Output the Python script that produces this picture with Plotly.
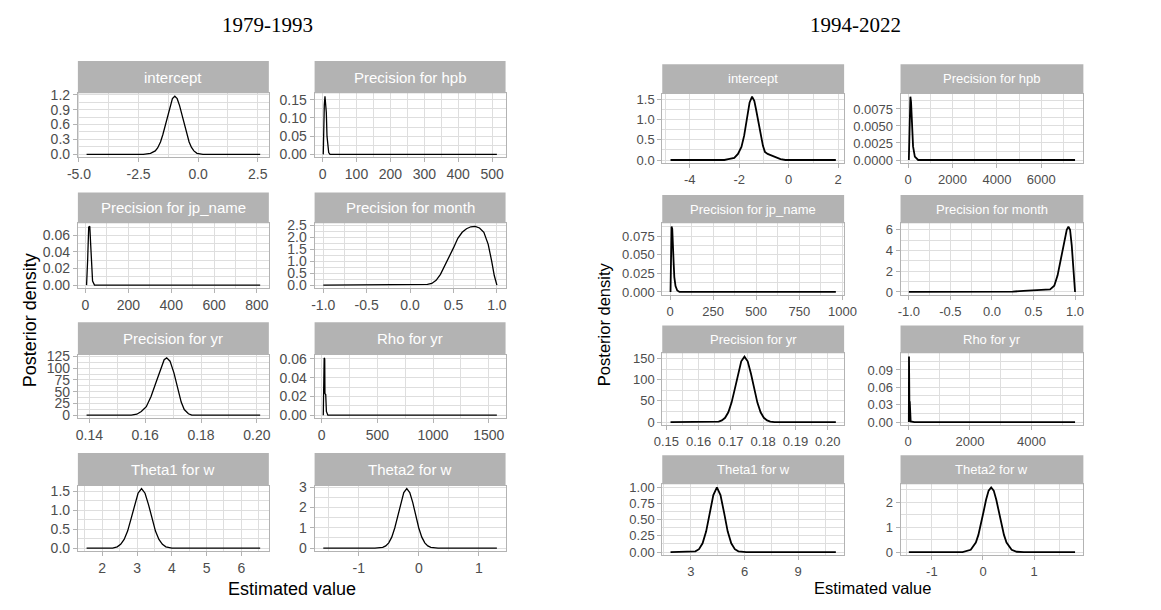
import plotly.graph_objects as go

W, H = 1161, 610

period_titles = ["1979-1993", "1994-2022"]
facet_labels = ["intercept", "Precision for hpb", "Precision for jp_name", "Precision for month",
                "Precision for yr", "Rho for yr", "Theta1 for w", "Theta2 for w"]
x_title = "Estimated value"
y_title = "Posterior density"

# ---------------- 1979-1993 ----------------
a_intercept_x = [-4.68, -2.3, -2.0, -1.8, -1.7, -1.58, -1.48, -1.38, -1.28, -1.18, -1.08, -0.98, -0.88,
                 -0.78, -0.68, -0.58, -0.48, -0.38, -0.28, -0.18, -0.05, 0.2, 2.6]
a_intercept_y = [0, 0, 0.02, 0.07, 0.13, 0.25, 0.40, 0.59, 0.80, 0.98, 1.12, 1.17, 1.12,
                 0.98, 0.79, 0.59, 0.40, 0.25, 0.14, 0.07, 0.02, 0, 0]
a_hpb_x = [2, 3, 5, 7, 9, 11, 13, 15, 18, 22, 514]
a_hpb_y = [0, 0.13, 0.135, 0.16, 0.14, 0.115, 0.05, 0.033, 0.005, 0, 0]
a_jp_x = [5, 7, 10, 15, 20, 24, 28, 33, 42, 815]
a_jp_y = [0, 0.027, 0.03, 0.07, 0.071, 0.05, 0.025, 0.005, 0, 0]
a_month_x = [-1.0, 0.15, 0.2, 0.25, 0.3, 0.35, 0.4, 0.45, 0.5, 0.55, 0.6, 0.65, 0.7, 0.75, 0.8,
             0.85, 0.9, 0.94, 0.97, 1.0]
a_month_y = [0, 0, 0.03, 0.07, 0.2, 0.45, 0.8, 1.15, 1.55, 1.95, 2.2, 2.35, 2.43, 2.45, 2.38,
             2.2, 1.7, 1.0, 0.4, 0.0]
a_yr_x = [0.139, 0.155, 0.157, 0.1586, 0.1604, 0.1621, 0.1639, 0.1656, 0.1668, 0.1677, 0.1689,
          0.1703, 0.1717, 0.1729, 0.174, 0.1755, 0.1767, 0.2012]
a_yr_y = [0, 0, 2, 8, 18, 40, 70, 100, 118, 122, 115, 90, 55, 28, 12, 3, 0, 0]
a_rho_x = [14, 17, 22, 27, 29, 36, 42, 55, 1573]
a_rho_y = [0, 0.06, 0.061, 0.06, 0.023, 0.022, 0.004, 0, 0]
a_theta1_x = [1.55, 2.3, 2.43, 2.53, 2.63, 2.73, 2.83, 2.93, 3.03, 3.13, 3.23, 3.33, 3.43, 3.53,
              3.63, 3.73, 3.83, 4.0, 6.54]
a_theta1_y = [0, 0, 0.035, 0.10, 0.23, 0.45, 0.78, 1.15, 1.45, 1.57, 1.45, 1.15, 0.78, 0.45,
              0.23, 0.10, 0.035, 0, 0]
a_theta2_x = [-1.59, -0.73, -0.6, -0.55, -0.5, -0.45, -0.4, -0.35, -0.3, -0.25, -0.2, -0.15, -0.1,
              -0.05, 0.0, 0.05, 0.1, 0.15, 0.2, 0.32, 1.3]
a_theta2_y = [0, 0, 0.04, 0.11, 0.26, 0.54, 0.99, 1.59, 2.24, 2.74, 2.93, 2.74, 2.24,
              1.59, 0.99, 0.54, 0.26, 0.11, 0.04, 0, 0]

a_xticks = [["-5.0", "-2.5", "0.0", "2.5"], ["0", "100", "200", "300", "400", "500"],
            ["0", "200", "400", "600", "800"], ["-1.0", "-0.5", "0.0", "0.5", "1.0"],
            ["0.14", "0.16", "0.18", "0.20"], ["0", "500", "1000", "1500"],
            ["2", "3", "4", "5", "6"], ["-1", "0", "1"]]
a_yticks = [["0.0", "0.3", "0.6", "0.9", "1.2"], ["0.00", "0.05", "0.10", "0.15"],
            ["0.00", "0.02", "0.04", "0.06"], ["0.0", "0.5", "1.0", "1.5", "2.0", "2.5"],
            ["0", "25", "50", "75", "100", "125"], ["0.00", "0.02", "0.04", "0.06"],
            ["0.0", "0.5", "1.0", "1.5"], ["0", "1", "2", "3"]]

# ---------------- 1994-2022 ----------------
b_intercept_x = [-4.78, -2.6, -2.44, -2.2, -2.05, -1.91, -1.8, -1.71, -1.58, -1.48, -1.39, -1.32,
                 -1.25, -1.18, -1.12, -1.04, -0.96, -0.85, -0.73, -0.53, -0.33, -0.13, 1.91]
b_intercept_y = [0, 0, 0.02, 0.05, 0.15, 0.32, 0.6, 0.95, 1.42, 1.56, 1.46, 1.25,
                 1.03, 0.78, 0.55, 0.35, 0.2, 0.15, 0.12, 0.06, 0.02, 0, 0]
b_hpb_x = [30, 60, 100, 130, 170, 220, 300, 450, 7520]
b_hpb_y = [0, 0.004, 0.0093, 0.0085, 0.0055, 0.002, 0.0005, 0, 0]
b_jp_x = [3, 6, 9, 13, 17, 21, 25, 32, 42, 55, 962]
b_jp_y = [0, 0.05, 0.088, 0.085, 0.07, 0.04, 0.02, 0.008, 0.002, 0, 0]
b_month_x = [-1.0, 0.2, 0.25, 0.38, 0.5, 0.6, 0.7, 0.75, 0.79, 0.83, 0.87, 0.9, 0.92, 0.94,
             0.96, 0.975, 0.99, 1.0]
b_month_y = [0, 0, 0.04, 0.1, 0.15, 0.18, 0.25, 0.6, 1.6, 3.2, 5.0, 6.0, 6.3, 6.0,
             4.5, 2.5, 0.5, 0]
b_yr_x = [0.1513, 0.1655, 0.1662, 0.1672, 0.1682, 0.1692, 0.1702, 0.1712, 0.1722, 0.1732, 0.1742,
          0.1752, 0.1762, 0.1772, 0.1782, 0.1792, 0.1802, 0.1812, 0.1822, 0.1835, 0.2025]
b_yr_y = [0, 0, 1.2, 4, 10, 23, 46, 78, 115, 144, 155, 144, 115, 78, 46, 23, 10, 4, 1.2, 0, 0]
b_rho_x = [20, 25, 30, 38, 50, 62, 80, 200, 5410]
b_rho_y = [0, 0.113, 0.11, 0.036, 0.035, 0.004, 0.001, 0, 0]
b_theta1_x = [1.87, 3.1, 3.26, 3.46, 3.66, 3.86, 4.06, 4.26, 4.46, 4.66, 4.86, 5.06, 5.26, 5.46,
              5.66, 5.86, 6.1, 11.1]
b_theta1_y = [0, 0, 0.011, 0.044, 0.135, 0.32, 0.61, 0.88, 1.0, 0.88, 0.61, 0.32, 0.135, 0.044,
              0.011, 0.002, 0, 0]
b_theta2_x = [-1.45, -0.4, -0.24, -0.14, -0.09, -0.04, 0.01, 0.06, 0.11, 0.16, 0.21, 0.26, 0.31,
              0.36, 0.41, 0.46, 0.56, 0.66, 0.8, 1.8]
b_theta2_y = [0, 0, 0.09, 0.38, 0.69, 1.11, 1.61, 2.10, 2.47, 2.6, 2.47, 2.10, 1.61,
              1.11, 0.69, 0.38, 0.09, 0.013, 0, 0]

b_xticks = [["-4", "-2", "0", "2"], ["0", "2000", "4000", "6000"],
            ["0", "250", "500", "750", "1000"], ["-1.0", "-0.5", "0.0", "0.5", "1.0"],
            ["0.15", "0.16", "0.17", "0.18", "0.19", "0.20"], ["0", "2000", "4000"],
            ["3", "6", "9"], ["-1", "0", "1"]]
b_yticks = [["0.0", "0.5", "1.0", "1.5"], ["0.0000", "0.0025", "0.0050", "0.0075"],
            ["0.000", "0.025", "0.050", "0.075"], ["0", "2", "4", "6"],
            ["0", "50", "100", "150"], ["0.00", "0.03", "0.06", "0.09"],
            ["0.00", "0.25", "0.50", "0.75", "1.00"], ["0", "1", "2"]]

series = [
    [(a_intercept_x, a_intercept_y), (a_hpb_x, a_hpb_y), (a_jp_x, a_jp_y), (a_month_x, a_month_y),
     (a_yr_x, a_yr_y), (a_rho_x, a_rho_y), (a_theta1_x, a_theta1_y), (a_theta2_x, a_theta2_y)],
    [(b_intercept_x, b_intercept_y), (b_hpb_x, b_hpb_y), (b_jp_x, b_jp_y), (b_month_x, b_month_y),
     (b_yr_x, b_yr_y), (b_rho_x, b_rho_y), (b_theta1_x, b_theta1_y), (b_theta2_x, b_theta2_y)],
]
xticks_all = [a_xticks, b_xticks]
yticks_all = [a_yticks, b_yticks]

# ---------------- layout geometry (pixels) ----------------
cols_px = [[(68.3, 263.3), (310.0, 505.0)], [(665.0, 850.7), (908.3, 1095.0)]]
rows_px = [[(55, 88, 153.3), (189.3, 220.7, 286.7), (321.7, 355, 419.3), (455, 488.3, 555)],
           [(58.3, 88.3, 159.3), (191.7, 220.7, 294), (325, 353.3, 426.7), (457.3, 486.7, 559.3)]]
tick_fs = [14, 13]
strip_fs = [15, 13]
title_fs = [18, 16.5]
line_w = [1.3, 1.8]
title_x = [262, 862]
xtitle_pos = [(287, 594), (880, 593)]
ytitle_pos = [(19, 320), (605, 323)]

FONT = "Liberation Sans, Arial, sans-serif"
GRID = "#DEDEDE"
BORDER = "#B3B3B3"

fig = go.Figure()
layout = dict(width=W, height=H, margin=dict(l=0, r=0, t=0, b=0),
              paper_bgcolor="white", plot_bgcolor="white", showlegend=False)
shapes, annotations = [], []


def expand(lo, hi):
    pad = (hi - lo) * 0.05
    return [lo - pad, hi + pad]


k = 0
for p in range(2):
    for i in range(8):
        k += 1
        r, c = divmod(i, 2)
        x0, x1 = cols_px[p][c]
        st, pt, pb = rows_px[p][r]
        xs, ys = series[p][i]
        xt = xticks_all[p][i]
        yt = yticks_all[p][i]
        xv = [float(s) for s in xt]
        yv = [float(s) for s in yt]
        suffix = "" if k == 1 else str(k)
        fig.add_trace(go.Scatter(x=xs, y=ys, mode="lines",
                                 line=dict(color="black", width=line_w[p]),
                                 xaxis="x" + suffix, yaxis="y" + suffix,
                                 hoverinfo="skip", showlegend=False))
        common = dict(showline=True, mirror=True, linecolor=BORDER, linewidth=1,
                      showgrid=True, gridcolor=GRID, gridwidth=1, zeroline=False,
                      ticks="outside", ticklen=4, tickwidth=1, tickcolor=BORDER,
                      tickmode="array",
                      tickfont=dict(family=FONT, size=tick_fs[p], color="#4D4D4D"))
        xstep = xv[1] - xv[0]
        ystep = yv[1] - yv[0]
        layout["xaxis" + suffix] = dict(
            common, domain=[x0 / W, x1 / W], anchor="y" + suffix,
            range=expand(min(xs), max(xs)), tickvals=xv, ticktext=xt,
            minor=dict(tickmode="linear", tick0=xv[0], dtick=xstep / 2, showgrid=True,
                       gridcolor=GRID, gridwidth=0.5, ticks=""))
        layout["yaxis" + suffix] = dict(
            common, domain=[1 - pb / H, 1 - pt / H], anchor="x" + suffix,
            range=expand(0, max(ys)), tickvals=yv, ticktext=yt,
            minor=dict(tickmode="linear", tick0=yv[0], dtick=ystep / 2, showgrid=True,
                       gridcolor=GRID, gridwidth=0.5, ticks=""))
        shapes.append(dict(type="rect", xref="paper", yref="paper",
                           x0=x0 / W, x1=x1 / W, y0=1 - pt / H, y1=1 - st / H,
                           fillcolor=BORDER, line=dict(width=0), layer="above"))
        annotations.append(dict(text=facet_labels[i], xref="paper", yref="paper",
                                x=(x0 + x1) / 2 / W, y=1 - (st + pt) / 2 / H,
                                xanchor="center", yanchor="middle", showarrow=False,
                                font=dict(family=FONT, size=strip_fs[p], color="white")))
    annotations.append(dict(text=period_titles[p], xref="paper", yref="paper",
                            x=title_x[p] / W, y=1 - 18 / H, xanchor="center", yanchor="middle",
                            showarrow=False,
                            font=dict(family="Liberation Serif, Times New Roman, serif",
                                      size=21, color="black")))
    annotations.append(dict(text=x_title, xref="paper", yref="paper",
                            x=xtitle_pos[p][0] / W, y=1 - xtitle_pos[p][1] / H,
                            xanchor="center", yanchor="middle", showarrow=False,
                            font=dict(family=FONT, size=title_fs[p], color="black")))
    annotations.append(dict(text=y_title, xref="paper", yref="paper", textangle=-90,
                            x=ytitle_pos[p][0] / W, y=1 - ytitle_pos[p][1] / H,
                            xanchor="center", yanchor="middle", showarrow=False,
                            font=dict(family=FONT, size=title_fs[p], color="black")))

layout["shapes"] = shapes
layout["annotations"] = annotations
fig.update_layout(**layout)
fig.write_html("out.html")
